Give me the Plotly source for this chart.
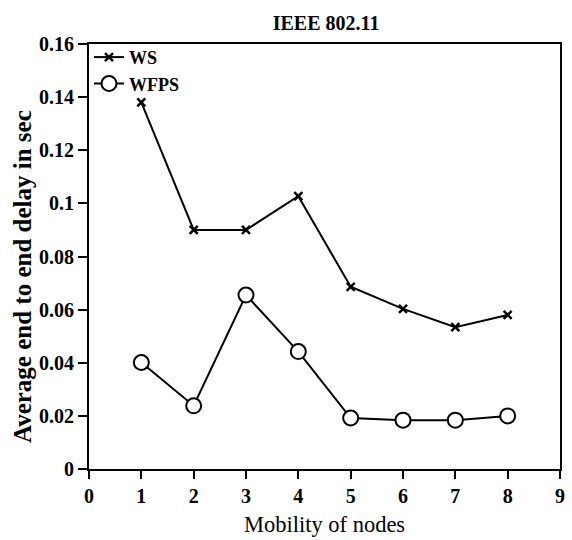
import plotly.graph_objects as go

x_nodes = [1, 2, 3, 4, 5, 6, 7, 8]
ws = [0.138, 0.090, 0.090, 0.1027, 0.0686, 0.0603, 0.0534, 0.058]
wfps = [0.0401, 0.0238, 0.0655, 0.0442, 0.0192, 0.0184, 0.0184, 0.0200]
x_ticks = list(range(10))
y_ticks = [0, 0.02, 0.04, 0.06, 0.08, 0.1, 0.12, 0.14, 0.16]
y_ticklabels = ["0", "0.02", "0.04", "0.06", "0.08", "0.1", "0.12", "0.14", "0.16"]

font_family = "Liberation Serif"

fig = go.Figure()
fig.add_trace(go.Scatter(
    x=x_nodes, y=ws, name="<b>WS</b>", mode="lines+markers",
    line=dict(color="black", width=2),
    marker=dict(symbol="x-thin", size=8, line=dict(color="black", width=2.5), color="black"),
))
fig.add_trace(go.Scatter(
    x=x_nodes, y=wfps, name="<b>WFPS</b>", mode="lines+markers",
    line=dict(color="black", width=2),
    marker=dict(symbol="circle", size=15, color="white", line=dict(color="black", width=2)),
))

fig.update_layout(
    width=572, height=540,
    margin=dict(l=89, r=7, t=44, b=70),
    paper_bgcolor="white", plot_bgcolor="white",
    font=dict(family=font_family, color="black"),
    title=dict(text="<b>IEEE 802.11</b>", x=0.57, xanchor="center", y=0.957, yanchor="middle",
               font=dict(size=20, family=font_family, color="black")),
    legend=dict(x=0.0, y=1.012, xanchor="left", yanchor="top", bgcolor="rgba(0,0,0,0)",
                font=dict(size=18, family=font_family, color="black"), tracegroupgap=0),
    xaxis=dict(range=[0, 9], tickvals=x_ticks, ticktext=["<b>%d</b>" % i for i in x_ticks],
               ticks="outside", ticklen=8, tickwidth=2, tickcolor="black",
               showline=True, linewidth=2, linecolor="black", mirror=True, showgrid=False, zeroline=False,
               tickfont=dict(size=20, family=font_family, color="black"),
               title=dict(text="Mobility of nodes", font=dict(size=22.5, family=font_family, color="black"),
                          standoff=10)),
    yaxis=dict(range=[0, 0.16], tickvals=y_ticks, ticktext=["<b>%s</b>" % t for t in y_ticklabels],
               ticks="outside", ticklen=9, tickwidth=2, tickcolor="black",
               showline=True, linewidth=2, linecolor="black", mirror=True, showgrid=False, zeroline=False,
               tickfont=dict(size=20, family=font_family, color="black")),
    annotations=[dict(text="<b>Average end to end delay in sec</b>", xref="paper", yref="paper",
                      x=-0.141, y=0.453, xanchor="center", yanchor="middle", textangle=-90,
                      showarrow=False, font=dict(size=25, family=font_family, color="black"))],
)

fig.write_html("out.html")
